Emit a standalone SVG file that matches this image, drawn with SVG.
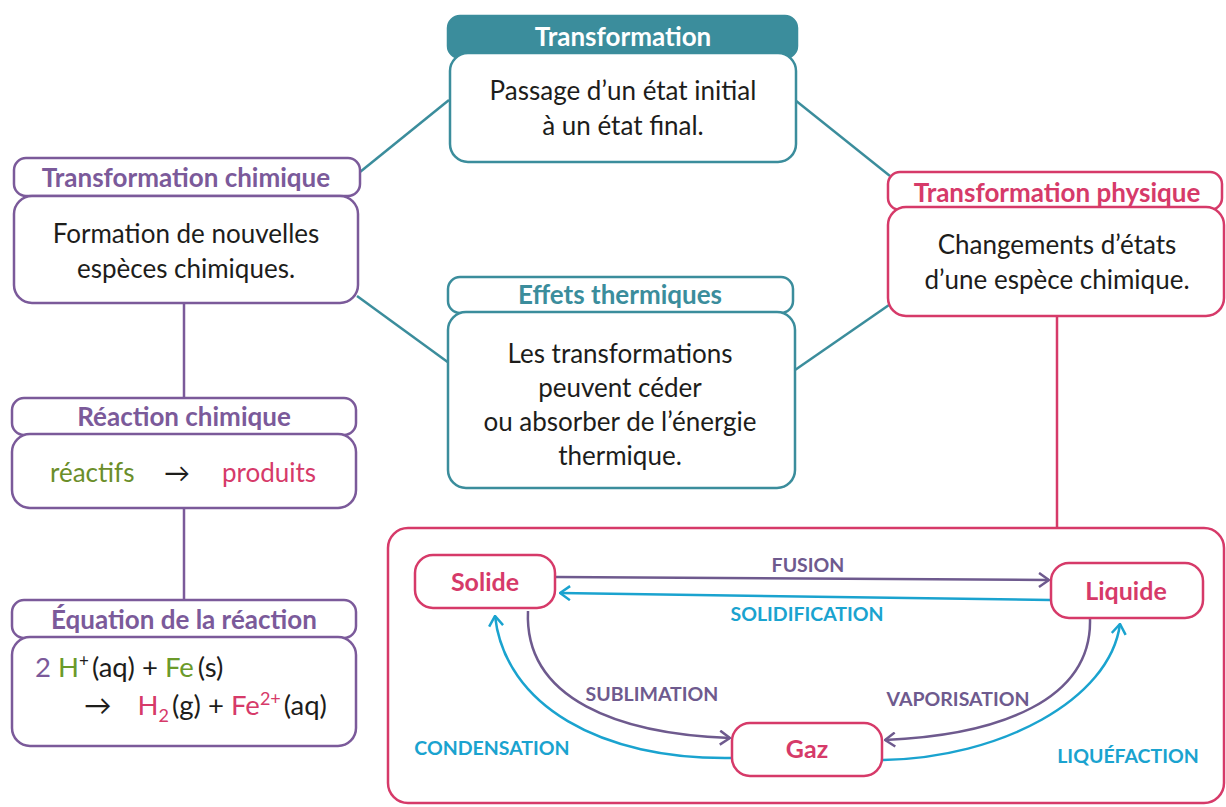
<svg xmlns="http://www.w3.org/2000/svg" width="1226" height="807" viewBox="0 0 1226 807">
<style>
text{font-family:Lato,"Open Sans","Liberation Sans",sans-serif}
.hd{font-weight:bold;font-size:26px;text-anchor:middle}
.bd{font-size:26px;fill:#1d1d1b;text-anchor:middle}
.pu{fill:none;stroke:#7b5a9a;stroke-width:2.5}
.te{fill:none;stroke:#3b8d9c;stroke-width:2.5}
.pk{fill:none;stroke:#d63a69;stroke-width:2.5}
.bx{fill:#fff}
.lbl{font-weight:bold;font-size:19.5px;text-anchor:middle}
.st{font-weight:bold;font-size:25px;text-anchor:middle;fill:#d63a69}
.lp{fill:#6e5a8e}
.lc{fill:#1aa3cf}
</style>
<defs>
<marker id="ap" viewBox="0 0 12 16" refX="11" refY="8" markerWidth="12" markerHeight="16" markerUnits="userSpaceOnUse" orient="auto"><path d="M1,1 L11,8 L1,15" fill="none" stroke="#6e5a8e" stroke-width="2.5"/></marker>
<marker id="ac" viewBox="0 0 12 16" refX="11" refY="8" markerWidth="12" markerHeight="16" markerUnits="userSpaceOnUse" orient="auto"><path d="M1,1 L11,8 L1,15" fill="none" stroke="#1aa3cf" stroke-width="2.5"/></marker>
</defs>
<rect width="1226" height="807" fill="#fff"/>
<g id="connectors">
<line class="te" x1="360" y1="172" x2="449" y2="100"/>
<line class="te" x1="357" y1="296" x2="449" y2="363"/>
<line class="te" x1="795" y1="100" x2="890" y2="176"/>
<line class="te" x1="795" y1="370" x2="889" y2="305"/>
<line class="pu" x1="184" y1="303" x2="184" y2="399"/>
<line class="pu" x1="184" y1="508" x2="184" y2="601"/>
<line class="pk" x1="1057" y1="316" x2="1057" y2="529"/>
</g>
<g id="transformation">
<rect x="448" y="16" width="349" height="42" rx="12" fill="#3b8d9c" stroke="#3b8d9c" stroke-width="2.5"/>
<text class="hd" x="623" y="46" fill="#fff">Transformation</text>
<rect class="bx te" x="450" y="53" width="346" height="109" rx="18"/>
<text class="bd" x="623" y="100">Passage d’un état initial</text>
<text class="bd" x="623" y="135">à un état final.</text>
</g>
<g id="chimique">
<rect class="bx pu" x="14" y="158" width="346" height="38" rx="12"/>
<text class="hd" x="186" y="187" fill="#7b5a9a">Transformation chimique</text>
<rect class="bx pu" x="14" y="196" width="344" height="107" rx="18"/>
<text class="bd" x="186" y="243">Formation de nouvelles</text>
<text class="bd" x="186" y="278">espèces chimiques.</text>
</g>
<g id="reaction">
<rect class="bx pu" x="12" y="398" width="344" height="37" rx="12"/>
<text class="hd" x="184" y="426" fill="#7b5a9a">Réaction chimique</text>
<rect class="bx pu" x="12" y="434" width="344" height="74" rx="18"/>
<text x="50" y="482" font-size="26" fill="#6b8e2a">réactifs</text>
<text x="164" y="482" font-size="26" fill="#1d1d1b">→</text>
<text x="222" y="482" font-size="26" fill="#d63a69">produits</text>
</g>
<g id="equation">
<rect class="bx pu" x="12" y="600" width="344" height="38" rx="12"/>
<text class="hd" x="184" y="629" fill="#7b5a9a">Équation de la réaction</text>
<rect class="bx pu" x="12" y="637" width="344" height="109" rx="18"/>
<text x="35" y="677" font-size="27.5" fill="#1d1d1b"><tspan fill="#7b5a9a">2 </tspan><tspan fill="#6b9a2a">H</tspan><tspan font-size="17" dy="-10">+</tspan><tspan dy="10" dx="3">(aq) + </tspan><tspan fill="#6b9a2a">Fe</tspan><tspan dx="4">(s)</tspan></text>
<text x="84" y="715" font-size="27.5" fill="#1d1d1b"><tspan>→</tspan><tspan dx="26" fill="#d63a69">H</tspan><tspan font-size="18" dy="7" fill="#d63a69">2</tspan><tspan dy="-7" dx="3">(g) + </tspan><tspan fill="#d63a69">Fe</tspan><tspan font-size="18" dy="-10" fill="#d63a69">2+</tspan><tspan dy="10" dx="3">(aq)</tspan></text>
</g>
<g id="effets">
<rect class="bx te" x="448" y="277" width="345" height="36" rx="12"/>
<text class="hd" x="620" y="304" fill="#3b8d9c">Effets thermiques</text>
<rect class="bx te" x="448" y="312" width="347" height="176" rx="18"/>
<text class="bd" x="620" y="363">Les transformations</text>
<text class="bd" x="620" y="397">peuvent céder</text>
<text class="bd" x="620" y="431">ou absorber de l’énergie</text>
<text class="bd" x="620" y="465">thermique.</text>
</g>
<g id="physique">
<rect class="bx pk" x="888" y="172" width="334" height="38" rx="12"/>
<text class="hd" x="1057" y="202" fill="#d63a69">Transformation physique</text>
<rect class="bx pk" x="888" y="207" width="336" height="109" rx="18"/>
<text class="bd" x="1057" y="254">Changements d’états</text>
<text class="bd" x="1057" y="289">d’une espèce chimique.</text>
</g>
<g id="etats">
<rect class="bx pk" x="388" y="528" width="836" height="275" rx="20"/>
</g>
<g id="state-arrows">
<path d="M555,577 L1049,580" stroke="#6e5a8e" stroke-width="2.5" fill="none" marker-end="url(#ap)"/>
<path d="M1050,600 L560,593" stroke="#1aa3cf" stroke-width="2.5" fill="none" marker-end="url(#ac)"/>
<path d="M528,611 C524,700 620,734 730,738" stroke="#6e5a8e" stroke-width="2.5" fill="none" marker-end="url(#ap)"/>
<path d="M732,758 C600,760 505,705 495,616" stroke="#1aa3cf" stroke-width="2.5" fill="none" marker-end="url(#ac)"/>
<path d="M1090,619 C1092,700 1000,735 885,740" stroke="#6e5a8e" stroke-width="2.5" fill="none" marker-end="url(#ap)"/>
<path d="M883,760 C1000,758 1110,700 1120,624" stroke="#1aa3cf" stroke-width="2.5" fill="none" marker-end="url(#ac)"/>
</g>
<g id="solide">
<rect class="bx pk" x="415" y="555" width="140" height="53" rx="18"/>
<text class="st" x="485" y="591">Solide</text>
</g>
<g id="liquide">
<rect class="bx pk" x="1051" y="563" width="152" height="55" rx="18"/>
<text class="st" x="1126" y="600">Liquide</text>
</g>
<g id="gaz">
<rect class="bx pk" x="732" y="723" width="150" height="53" rx="18"/>
<text class="st" x="807" y="758">Gaz</text>
</g>
<g id="labels">
<text class="lbl lp" x="808" y="572">FUSION</text>
<text class="lbl lc" x="807" y="621">SOLIDIFICATION</text>
<text class="lbl lp" x="652" y="701">SUBLIMATION</text>
<text class="lbl lc" x="492" y="755">CONDENSATION</text>
<text class="lbl lp" x="958" y="706">VAPORISATION</text>
<text class="lbl lc" x="1128" y="763">LIQUÉFACTION</text>
</g>
</svg>
